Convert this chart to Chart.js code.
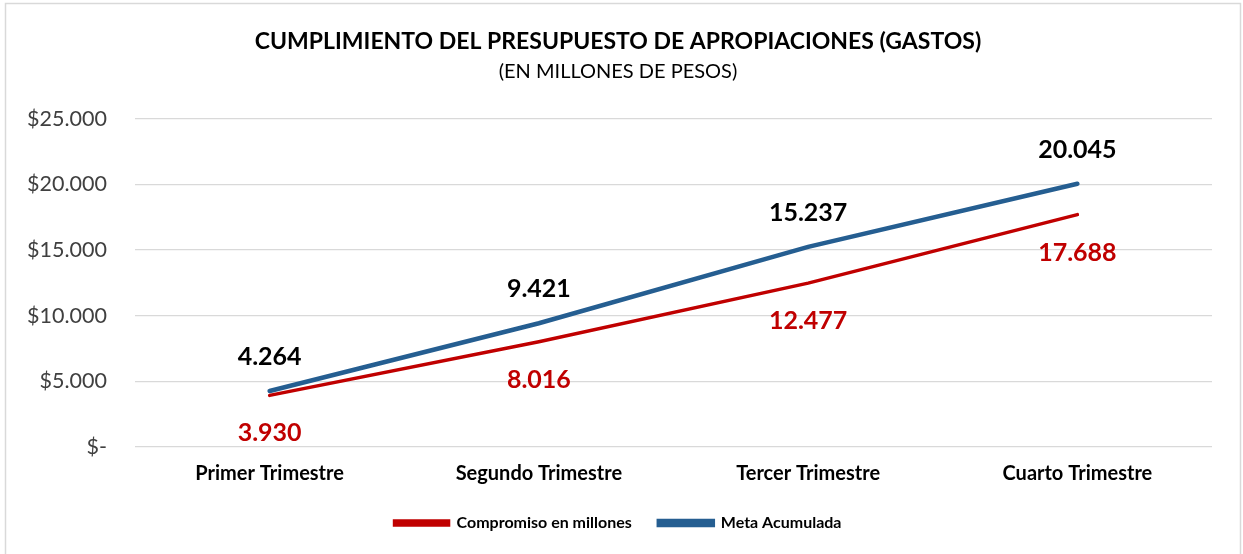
<!DOCTYPE html>
<html>
<head>
<meta charset="utf-8">
<script src="https://cdn.jsdelivr.net/npm/chart.js@4"></script>
<style>
html,body{margin:0;padding:0;background:#fff;}
#wrap{position:relative;width:1243px;height:554px;}
</style>
</head>
<body>
<div id="wrap"><canvas id="c" width="1243" height="554"></canvas></div>
<script>
const categories = ['Primer Trimestre', 'Segundo Trimestre', 'Tercer Trimestre', 'Cuarto Trimestre'];
const compromiso = [3930, 8016, 12477, 17688];
const metaAcumulada = [4264, 9421, 15237, 20045];
const yTicks = [0, 5000, 10000, 15000, 20000, 25000];

const FONT = 'Lato, "Open Sans", sans-serif';
const RED = '#C00000';
const BLUE = '#255E91';

function fmt(v) {
  return String(Math.round(v)).replace(/\B(?=(\d{3})+(?!\d))/g, '.');
}

const frame = {
  id: 'frame',
  beforeDraw(chart) {
    const ctx = chart.ctx;
    ctx.save();
    ctx.fillStyle = '#fff';
    ctx.fillRect(0, 0, chart.width, chart.height);
    ctx.strokeStyle = '#d9d9d9';
    ctx.lineWidth = 1.5;
    ctx.strokeRect(5.5, 3.5, 1235, 560);
    ctx.restore();
  }
};

const valueLabels = {
  id: 'valueLabels',
  afterDatasetsDraw(chart) {
    const ctx = chart.ctx;
    ctx.save();
    ctx.font = 'bold 25px ' + FONT;
    ctx.textAlign = 'center';
    ctx.textBaseline = 'middle';
    chart.data.datasets.forEach((ds, i) => {
      const meta = chart.getDatasetMeta(i);
      const off = ds.labelOffset;
      ctx.fillStyle = ds.labelColor;
      meta.data.forEach((pt, j) => {
        ctx.fillText(fmt(ds.data[j]), pt.x, pt.y + off);
      });
    });
    ctx.restore();
  }
};

new Chart(document.getElementById('c'), {
  type: 'line',
  data: {
    labels: categories,
    datasets: [
      {
        label: 'Compromiso en millones',
        data: compromiso,
        borderColor: RED,
        backgroundColor: RED,
        borderWidth: 3.5,
        pointRadius: 0,
        tension: 0,
        borderCapStyle: 'round',
        labelColor: RED,
        labelOffset: 38
      },
      {
        label: 'Meta Acumulada',
        data: metaAcumulada,
        borderColor: BLUE,
        backgroundColor: BLUE,
        borderWidth: 4.5,
        pointRadius: 0,
        tension: 0,
        borderCapStyle: 'round',
        labelColor: '#000',
        labelOffset: -34
      }
    ]
  },
  options: {
    responsive: false,
    animation: false,
    devicePixelRatio: 1,
    layout: { padding: { left: 24, right: 31, top: 0, bottom: 13 } },
    plugins: {
      title: {
        display: true,
        text: 'CUMPLIMIENTO DEL PRESUPUESTO DE APROPIACIONES (GASTOS)',
        color: '#000',
        font: { family: FONT, size: 23, weight: 'bold', lineHeight: 1.2 },
        padding: { top: 28, bottom: 4 }
      },
      subtitle: {
        display: true,
        text: '(EN MILLONES DE PESOS)',
        color: '#000',
        font: { family: FONT, size: 20, weight: 'normal', lineHeight: 1.2 },
        padding: { top: 0, bottom: 35 }
      },
      legend: {
        display: true,
        position: 'bottom',
        labels: {
          color: '#000',
          font: { family: FONT, size: 16, weight: 'bold' },
          boxWidth: 54,
          boxHeight: 4,
          padding: 27
        }
      },
      tooltip: { enabled: false }
    },
    scales: {
      x: {
        offset: true,
        grid: { display: false, drawTicks: false },
        border: { display: false },
        afterFit(scale) { scale.height = 41; },
        ticks: {
          color: '#000',
          font: { family: FONT, size: 20, weight: 'bold' },
          padding: 15,
          maxRotation: 0
        }
      },
      y: {
        min: 0,
        max: 25000,
        afterBuildTicks(scale) { scale.ticks = yTicks.map(v => ({ value: v })); },
        afterFit(scale) { scale.width = 111; },
        grid: { color: '#d9d9d9', lineWidth: 1.3, drawTicks: false },
        border: { display: false },
        ticks: {
          color: '#404040',
          font: { family: FONT, size: 21.5 },
          padding: 28,
          callback: (v) => v === 0 ? '$-' : '$' + fmt(v)
        }
      }
    }
  },
  plugins: [frame, valueLabels]
});
</script>
</body>
</html>
